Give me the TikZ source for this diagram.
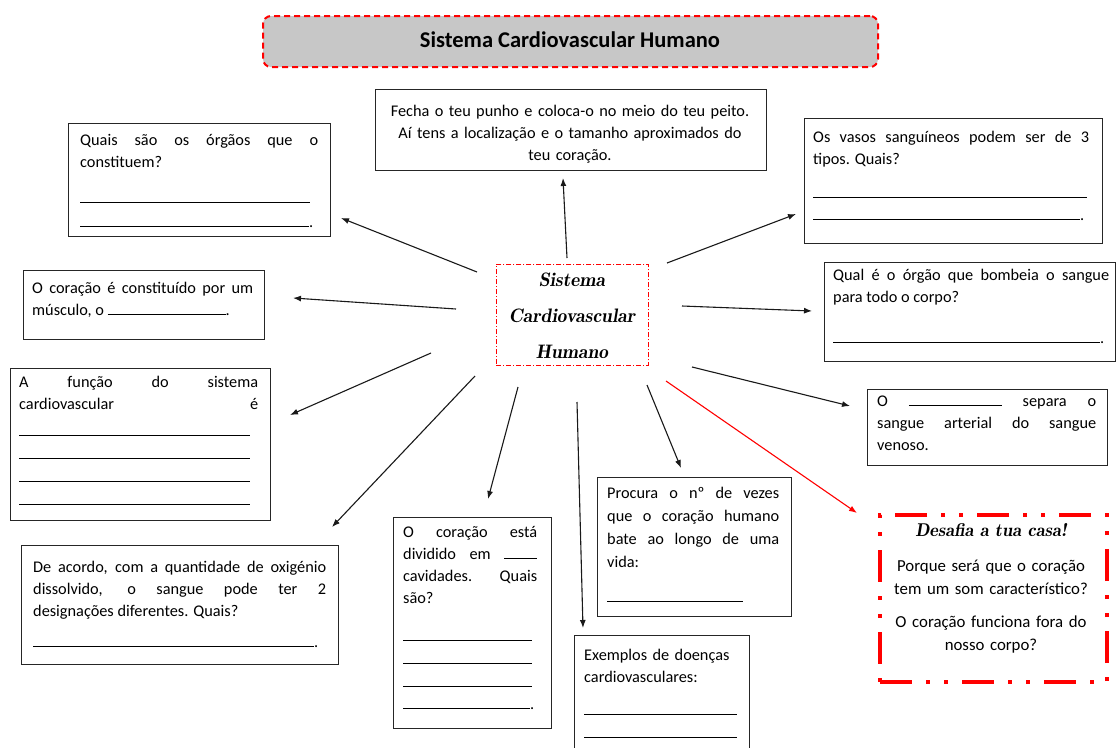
\documentclass[tikz,border=0pt]{standalone}
\usepackage{fontspec}
\setmainfont{Carlito}
\usetikzlibrary{arrows.meta,calc}
\newcommand\bodyfont{\fontsize{16.3}{22}\selectfont}
\newcommand\cursivefont{\fontfamily{lmr}\fontseries{b}\fontshape{it}\selectfont}
\newcommand\blankline[1]{\rule{#1pt}{0.8pt}}
\tikzset{
  box/.style={draw=black!85, line width=1.2pt, anchor=north west, inner sep=0pt},
  txt/.style={anchor=base west, inner sep=0pt, align=justify, font=\bodyfont},
  ctxt/.style={anchor=base, inner sep=0pt, align=center, font=\bodyfont},
  blank/.style={anchor=base west, inner sep=0pt, font=\bodyfont},
  arr/.style={line width=1.1pt, black!90, -{Latex[length=8pt,width=6pt]}},
  redarr/.style={line width=1.1pt, red, -{Latex[length=8pt,width=6pt]}},
}
\begin{document}
\begin{tikzpicture}[x=1pt,y=-1pt]
\useasboundingbox[fill=white] (0,0) rectangle (1116,747);

% title
\node[draw=red, fill=black!22, line width=2pt, dash pattern=on 6pt off 4pt, rounded corners=8pt,
      anchor=north west, inner sep=0pt, minimum width=615pt, minimum height=51pt] (title) at (262,15) {};
\node[anchor=base, inner sep=0pt, font=\fontsize{22.5}{24}\selectfont\bfseries] (titletxt) at (570,47) {Sistema Cardiovascular Humano};

% centre
\node[draw=red, line width=0.9pt, dash pattern=on 5pt off 2pt on 1pt off 2pt, anchor=north west,
      inner sep=0pt, minimum width=152pt, minimum height=101pt] (centre) at (496,264) {};
\node[anchor=base, inner sep=0pt, text width=150pt, align=center, font=\fontsize{19.5}{36}\selectfont\cursivefont] (centretxt) at (572,286) {Sistema\\Cardiovascular\\Humano};

% top box
\node[box, minimum width=391pt, minimum height=81pt] (bTop) at (375,89) {};
\node[ctxt, text width=385pt] (tTop) at (570,116) {Fecha o teu punho e coloca-o no meio do teu peito.\\Aí tens a localização e o tamanho aproximados do\\teu coração.};

% box A
\node[box, minimum width=262pt, minimum height=113pt] (bA) at (68,123) {};
\node[txt, text width=238pt] (tA) at (80,145) {Quais são os órgãos que o\linebreak constituem?};
\node[blank] (lA1) at (80,203) {\blankline{230}};
\node[blank] (lA2) at (80,227) {\blankline{229}.};

% box B
\node[box, minimum width=241pt, minimum height=69pt] (bB) at (23,270) {};
\node[txt, text width=221pt] (tB) at (32,293) {O coração é constituído por um\linebreak músculo, o \blankline{118}.};

% box C
\node[box, minimum width=260pt, minimum height=152pt] (bC) at (10,368) {};
\node[txt, text width=239pt] (tC) at (19,387) {A função do sistema\linebreak cardiovascular\hfill é};
\node[blank] (lC1) at (19,436) {\blankline{231}};
\node[blank] (lC2) at (19,459) {\blankline{231}};
\node[blank] (lC3) at (19,482) {\blankline{231}};
\node[blank] (lC4) at (19,505) {\blankline{231}};

% box D
\node[box, minimum width=317pt, minimum height=119pt] (bD) at (21,545) {};
\node[txt, text width=293pt] (tD) at (33,572) {De acordo, com a quantidade de oxigénio\linebreak dissolvido, o sangue pode ter 2\linebreak designações diferentes. Quais?};
\node[blank] (lD1) at (33,647) {\blankline{281}.};

% box E
\node[box, minimum width=158pt, minimum height=211pt] (bE) at (393,517) {};
\node[txt, text width=134pt] (tE) at (403,537) {O coração está\linebreak dividido em \blankline{33}\linebreak cavidades. Quais\linebreak são?};
\node[blank] (lE1) at (403,641) {\blankline{129}};
\node[blank] (lE2) at (403,664) {\blankline{129}};
\node[blank] (lE3) at (403,687) {\blankline{129}};
\node[blank] (lE4) at (403,709) {\blankline{127}.};

% box F
\node[box, minimum width=175pt, minimum height=125pt] (bF) at (574,635) {};
\node[txt, text width=160pt, align=left] (tF) at (584,660) {Exemplos de doenças\\cardiovasculares:};
\node[blank] (lF1) at (584,715) {\blankline{153}};
\node[blank] (lF2) at (584,738) {\blankline{153}};

% box G
\node[box, minimum width=194pt, minimum height=139pt] (bG) at (597,477) {};
\node[txt, text width=172pt, font=\fontsize{16.3}{23}\selectfont] (tG) at (607,498) {Procura o nº de vezes\linebreak que o coração humano\linebreak bate ao longo de uma\linebreak vida:};
\node[blank] (lG1) at (607,602) {\blankline{136}};

% box H
\node[box, minimum width=298pt, minimum height=125pt] (bH) at (804,118) {};
\node[txt, text width=276pt] (tH) at (813,142) {Os vasos sanguíneos podem ser de 3\linebreak tipos. Quais?};
\node[blank] (lH1) at (813,198) {\blankline{274}};
\node[blank] (lH2) at (813,220) {\blankline{267}.};

% box I
\node[box, minimum width=291pt, minimum height=99pt] (bI) at (824,262) {};
\node[txt, text width=276pt] (tI) at (833,280) {Qual é o órgão que bombeia o sangue\linebreak para todo o corpo?};
\node[blank] (lI1) at (833,343) {\blankline{267}.};

% box J
\node[box, minimum width=240pt, minimum height=76pt] (bJ) at (867,389) {};
\node[txt, text width=219pt] (tJ) at (877,406) {O \blankline{93} separa o\linebreak sangue arterial do sangue\linebreak venoso.};

% challenge box
\node[draw=red, line width=4pt, dash pattern=on 32pt off 14pt on 4pt off 14pt on 4pt off 14pt,
      anchor=north west, inner sep=0pt, minimum width=227pt, minimum height=167pt] (bDes) at (878,513) {};
\node[anchor=base, inner sep=0pt, font=\fontsize{18.5}{20}\selectfont\cursivefont] (tDesT) at (991,536) {Desafia a tua casa!};
\node[ctxt, text width=220pt, font=\fontsize{16.8}{23}\selectfont] (tDes) at (991,571) {Porque será que o coração\\tem um som característico?\\[10pt]O coração funciona fora do\\nosso corpo?};

% arrows
\coordinate (s1) at (567,258); \coordinate (e1) at (563,178);
\coordinate (s2) at (477,272); \coordinate (e2) at (341,218);
\coordinate (s3) at (456,309); \coordinate (e3) at (293,298);
\coordinate (s4) at (431,353); \coordinate (e4) at (290,415);
\coordinate (s5) at (475,376); \coordinate (e5) at (332,527);
\coordinate (s6) at (518,387); \coordinate (e6) at (488,499);
\coordinate (s7) at (577,402); \coordinate (e7) at (583,628);
\coordinate (s8) at (647,385); \coordinate (e8) at (681,468);
\coordinate (s9) at (666,381); \coordinate (e9) at (857,513);
\coordinate (s10) at (692,367); \coordinate (e10) at (850,406);
\coordinate (s11) at (682,306); \coordinate (e11) at (812,311);
\coordinate (s12) at (667,263); \coordinate (e12) at (796,214);
\draw[arr] (s1) -- (e1);
\draw[arr] (s2) -- (e2);
\draw[arr] (s3) -- (e3);
\draw[arr] (s4) -- (e4);
\draw[arr] (s5) -- (e5);
\draw[arr] (s6) -- (e6);
\draw[arr] (s7) -- (e7);
\draw[arr] (s8) -- (e8);
\draw[redarr] (s9) -- (e9);
\draw[arr] (s10) -- (e10);
\draw[arr] (s11) -- (e11);
\draw[arr] (s12) -- (e12);
\end{tikzpicture}
\end{document}
